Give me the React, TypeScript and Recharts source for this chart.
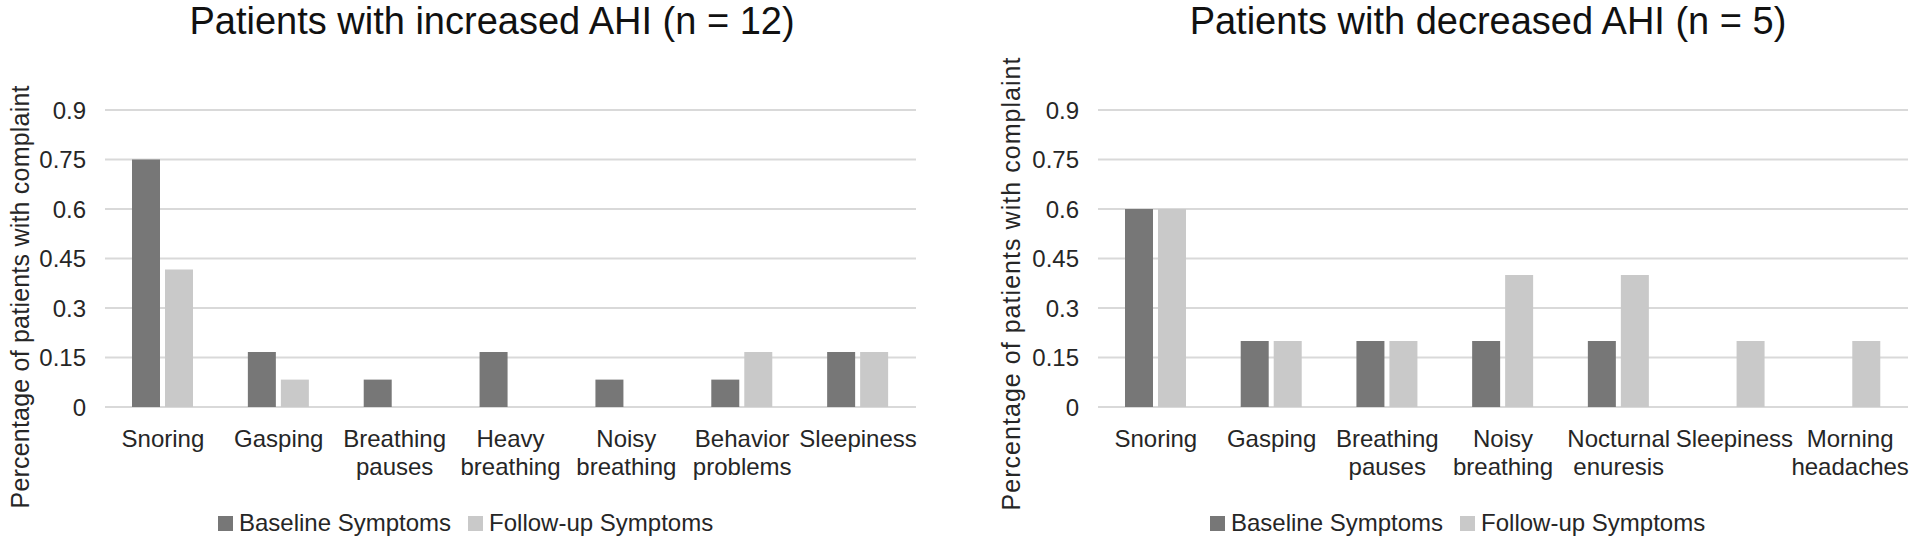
import React from "react";
import { BarChart, Bar, XAxis, YAxis, CartesianGrid, Legend } from "recharts";

const increasedCategories = [
  "Snoring",
  "Gasping",
  "Breathing pauses",
  "Heavy breathing",
  "Noisy breathing",
  "Behavior problems",
  "Sleepiness",
];
const increasedBaseline = [0.75, 0.167, 0.083, 0.167, 0.083, 0.083, 0.167];
const increasedFollowup = [0.417, 0.083, 0, 0, 0, 0.167, 0.167];

const decreasedCategories = [
  "Snoring",
  "Gasping",
  "Breathing pauses",
  "Noisy breathing",
  "Nocturnal enuresis",
  "Sleepiness",
  "Morning headaches",
];
const decreasedBaseline = [0.6, 0.2, 0.2, 0.2, 0.2, 0, 0];
const decreasedFollowup = [0.6, 0.2, 0.2, 0.4, 0.4, 0.2, 0.2];

const yTicks = [0, 0.15, 0.3, 0.45, 0.6, 0.75, 0.9];
const seriesNames = ["Baseline Symptoms", "Follow-up Symptoms"];
const titles = ["Patients with increased AHI (n = 12)", "Patients with decreased AHI (n = 5)"];
const yLabel = "Percentage of patients with complaint";

const FONT = '"Liberation Sans", Arial, Helvetica, sans-serif';
const BASE_COLOR = "#777777";
const FOLLOW_COLOR = "#c9c9c9";
const TEXT_COLOR = "#262626";

const CatTick = (props: any) => {
  const { x, y, payload } = props;
  const words: string[] = String(payload.value).split(" ");
  return (
    <text x={x} y={y + 40} textAnchor="middle" fill={TEXT_COLOR} fontSize={24} fontFamily={FONT}>
      {words.map((w, i) => (
        <tspan key={i} x={x} dy={i === 0 ? 0 : 28}>
          {w}
        </tspan>
      ))}
    </text>
  );
};

const LegendContent = (props: any) => {
  const { payload } = props;
  return (
    <div
      style={{
        display: "flex",
        alignItems: "center",
        fontFamily: FONT,
        fontSize: 24,
        color: TEXT_COLOR,
        whiteSpace: "nowrap",
        lineHeight: "24px",
      }}
    >
      {(payload || []).map((e: any, i: number) => (
        <div key={i} style={{ display: "flex", alignItems: "center", marginRight: 17 }}>
          <span
            style={{ display: "inline-block", width: 15, height: 15, background: e.color, marginRight: 6 }}
          />
          <span>{e.value}</span>
        </div>
      ))}
    </div>
  );
};

function buildData(cats: string[], base: number[], fol: number[]) {
  return cats.map((c, i) => ({ name: c, baseline: base[i], followup: fol[i] }));
}

function Panel(props: {
  data: any[];
  yAxisWidth: number;
  marginRight: number;
  legendLeft: number;
}) {
  const { data, yAxisWidth, marginRight, legendLeft } = props;
  return (
    <BarChart
      width={960}
      height={542}
      data={data}
      margin={{ top: 110, right: marginRight, bottom: 105, left: 0 }}
      barGap={5}
    >
      <CartesianGrid vertical={false} stroke="#d9d9d9" strokeWidth={2} />
      <XAxis
        dataKey="name"
        height={30}
        axisLine={false}
        tickLine={false}
        tickSize={0}
        tickMargin={0}
        interval={0}
        tick={<CatTick />}
      />
      <YAxis
        width={yAxisWidth}
        domain={[0, 0.9]}
        ticks={yTicks}
        axisLine={false}
        tickLine={false}
        tickSize={0}
        tickMargin={19}
        tick={{ fill: TEXT_COLOR, fontSize: 24, fontFamily: FONT }}
      />
      <Legend
        layout="horizontal"
        verticalAlign="middle"
        align="center"
        content={<LegendContent />}
        wrapperStyle={{ left: legendLeft, top: 511, width: 600 }}
      />
      <Bar dataKey="baseline" name={seriesNames[0]} fill={BASE_COLOR} barSize={28} isAnimationActive={false} />
      <Bar dataKey="followup" name={seriesNames[1]} fill={FOLLOW_COLOR} barSize={28} isAnimationActive={false} />
    </BarChart>
  );
}

export default function App() {
  const leftData = buildData(increasedCategories, increasedBaseline, increasedFollowup);
  const rightData = buildData(decreasedCategories, decreasedBaseline, decreasedFollowup);
  return (
    <div
      style={{
        position: "absolute",
        left: 0,
        top: 0,
        width: 1920,
        height: 542,
        background: "#ffffff",
        overflow: "hidden",
      }}
    >
      <div style={{ position: "absolute", left: 0, top: 0 }}>
        <Panel data={leftData} yAxisWidth={105} marginRight={44} legendLeft={218} />
      </div>
      <div style={{ position: "absolute", left: 960, top: 0 }}>
        <Panel data={rightData} yAxisWidth={138} marginRight={12} legendLeft={250} />
      </div>
      <svg
        width={1920}
        height={542}
        style={{ position: "absolute", left: 0, top: 0, pointerEvents: "none" }}
      >
        <text x={492} y={34} textAnchor="middle" fontSize={38} fontFamily={FONT} fill="#111111">
          {titles[0]}
        </text>
        <text x={1488} y={34} textAnchor="middle" fontSize={38} fontFamily={FONT} fill="#111111">
          {titles[1]}
        </text>
        <text
          transform="translate(20,297) rotate(-90)"
          textAnchor="middle"
          dominantBaseline="central"
          fontSize={25}
          textLength={423}
          lengthAdjust="spacing"
          fontFamily={FONT}
          fill={TEXT_COLOR}
        >
          {yLabel}
        </text>
        <text
          transform="translate(1011,284) rotate(-90)"
          textAnchor="middle"
          dominantBaseline="central"
          fontSize={25}
          textLength={453}
          lengthAdjust="spacing"
          fontFamily={FONT}
          fill={TEXT_COLOR}
        >
          {yLabel}
        </text>
      </svg>
    </div>
  );
}
